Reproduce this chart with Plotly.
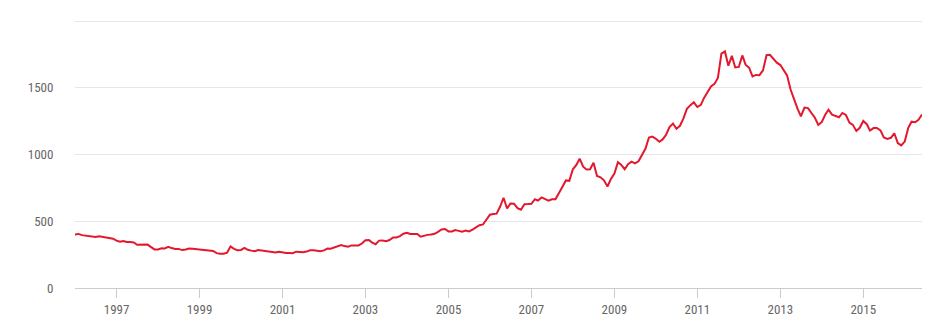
import plotly.graph_objects as go

years = list(range(1996, 2017))
prices = {
    1996: [400, 405, 396, 393, 392, 385, 383, 387, 383, 381, 378, 369],
    1997: [355, 346, 352, 344, 344, 341, 324, 324, 323, 325, 306, 289],
    1998: [289, 297, 296, 308, 299, 292, 293, 284, 289, 296, 294, 291],
    1999: [287, 288, 286, 282, 277, 261, 256, 257, 265, 311, 293, 283],
    2000: [285, 300, 286, 280, 275, 285, 282, 275, 273, 270, 266, 272],
    2001: [266, 262, 263, 261, 272, 270, 268, 273, 283, 283, 276, 275],
    2002: [282, 296, 294, 302, 314, 322, 314, 310, 319, 317, 319, 333],
    2003: [357, 359, 340, 328, 355, 356, 351, 359, 379, 379, 389, 407],
    2004: [414, 405, 406, 404, 384, 392, 398, 400, 406, 420, 439, 442],
    2005: [424, 423, 434, 428, 422, 430, 424, 438, 456, 470, 476, 510],
    2006: [549, 555, 557, 610, 676, 596, 633, 632, 598, 586, 628, 629],
    2007: [631, 665, 655, 679, 667, 655, 665, 665, 712, 754, 806, 803],
    2008: [889, 922, 968, 909, 888, 889, 939, 839, 829, 807, 760, 816],
    2009: [858, 943, 924, 890, 928, 946, 934, 949, 996, 1043, 1127, 1134],
    2010: [1118, 1095, 1113, 1148, 1205, 1232, 1193, 1215, 1271, 1342, 1370, 1391],
    2011: [1356, 1372, 1424, 1473, 1510, 1529, 1573, 1756, 1772, 1665, 1739, 1652],
    2012: [1656, 1742, 1673, 1650, 1585, 1596, 1594, 1630, 1744, 1747, 1721, 1688],
    2013: [1670, 1627, 1593, 1487, 1414, 1343, 1286, 1352, 1348, 1316, 1275, 1221],
    2014: [1244, 1300, 1336, 1299, 1287, 1279, 1311, 1296, 1239, 1222, 1176, 1200],
    2015: [1251, 1227, 1179, 1198, 1199, 1181, 1128, 1117, 1125, 1159, 1086, 1068],
    2016: [1097, 1200, 1246, 1242, 1260, 1300],
}

dates = []
values = []
for y in years:
    for m, v in enumerate(prices[y], start=1):
        dates.append(f"{y}-{m:02d}-01")
        values.append(v)

x_tick_vals = [f"{y}-01-01" for y in range(1997, 2016, 2)]
x_tick_text = [str(y) for y in range(1997, 2016, 2)]
y_tick_vals = [0, 500, 1000, 1500, 2000]
y_tick_text = ["0", "500", "1000", "1500", ""]

fig = go.Figure()
fig.add_trace(go.Scatter(
    x=dates, y=values, mode="lines",
    line=dict(color="#e3182d", width=2),
    hoverinfo="x+y",
))

font_family = "Liberation Sans Narrow, Roboto Condensed, DejaVu Sans Condensed, Arial Narrow, sans-serif"

fig.update_layout(
    width=936, height=327,
    margin=dict(l=67, r=22, t=9, b=47),
    paper_bgcolor="white", plot_bgcolor="white",
    showlegend=False,
    font=dict(family=font_family, size=13, color="#666666"),
    xaxis=dict(
        type="date",
        range=["1996-01-01", "2016-06-01"],
        tickvals=x_tick_vals, ticktext=x_tick_text,
        showgrid=False,
        showline=True, linecolor="#cccccc", linewidth=1,
        ticks="outside", ticklen=9, tickcolor="#cccccc", tickwidth=1,
        tickfont=dict(size=13, color="#666666"),
        zeroline=False,
    ),
    yaxis=dict(
        range=[0, 2030],
        tickvals=y_tick_vals, ticktext=y_tick_text,
        showgrid=True, gridcolor="#e6e6e6", gridwidth=1,
        zeroline=False, showline=False,
        ticks="outside", ticklen=18, tickcolor="rgba(0,0,0,0)",
        tickfont=dict(size=13, color="#666666"),
    ),
)

fig.write_html("out.html")
